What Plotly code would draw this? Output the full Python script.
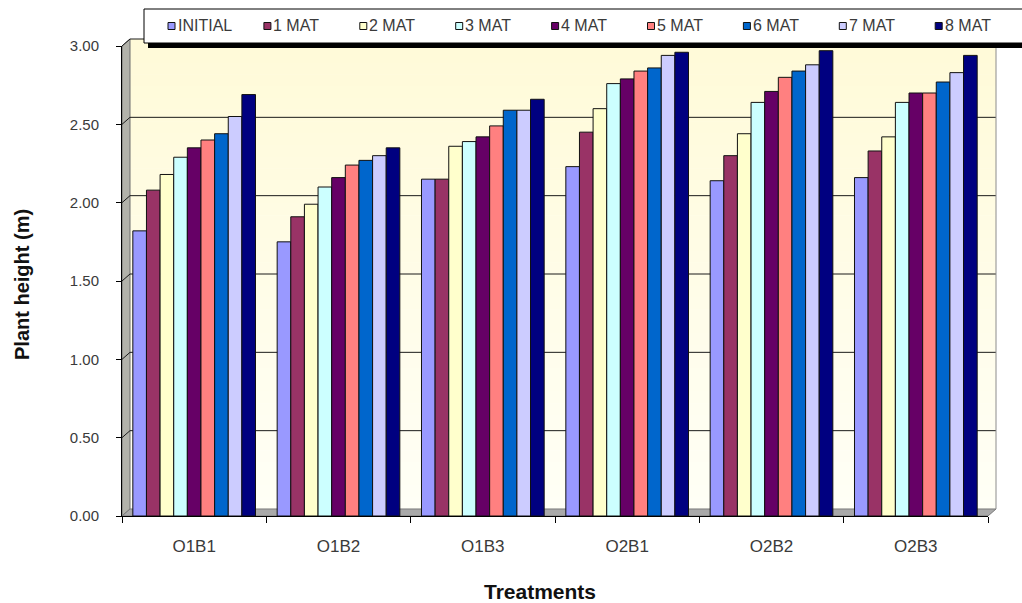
import plotly.graph_objects as go

# Treatments on the x axis and growth stages as grouped series
treatments = ["O1B1", "O1B2", "O1B3", "O2B1", "O2B2", "O2B3"]
stages = ["INITIAL", "1 MAT", "2 MAT", "3 MAT", "4 MAT", "5 MAT", "6 MAT", "7 MAT", "8 MAT"]

# Plant height (m) per stage, one value per treatment
initial = [1.82, 1.75, 2.15, 2.23, 2.14, 2.16]
mat1 = [2.08, 1.91, 2.15, 2.45, 2.30, 2.33]
mat2 = [2.18, 1.99, 2.36, 2.60, 2.44, 2.42]
mat3 = [2.29, 2.10, 2.39, 2.76, 2.64, 2.64]
mat4 = [2.35, 2.16, 2.42, 2.79, 2.71, 2.70]
mat5 = [2.40, 2.24, 2.49, 2.84, 2.80, 2.70]
mat6 = [2.44, 2.27, 2.59, 2.86, 2.84, 2.77]
mat7 = [2.55, 2.30, 2.59, 2.94, 2.88, 2.83]
mat8 = [2.69, 2.35, 2.66, 2.96, 2.97, 2.94]
series = [initial, mat1, mat2, mat3, mat4, mat5, mat6, mat7, mat8]

colors = ["#9999FF", "#993366", "#FFFFCC", "#CCFFFF", "#660066",
          "#FF8080", "#0066CC", "#CCCCFF", "#000080"]

y_ticks = [0.0, 0.5, 1.0, 1.5, 2.0, 2.5, 3.0]
y_max = 3.0

FONT = "Arial, Liberation Sans, sans-serif"
TEXT = "#3A3A3A"

# Figure / plot-area geometry in pixels
W, H = 1022, 603
L, R, T, B = 122, 988, 46, 516
DX, DY = 8, 7  # depth offset of the back wall


def px(x):
    return (x - L) / (R - L)


def py(y):
    return (B - y) / (B - T)


def vy(v):
    """pixel row of a value on the front axis"""
    return B - v / y_max * (B - T)


shapes = []

# Back wall with a soft cream-to-white vertical gradient
n_bands = 40
top_c = (255, 250, 216)
bot_c = (255, 255, 246)
wall_top, wall_bot = T - DY, B - DY
for i in range(n_bands):
    f = i / (n_bands - 1)
    c = tuple(round(top_c[k] + (bot_c[k] - top_c[k]) * f) for k in range(3))
    y0 = wall_top + (wall_bot - wall_top) * i / n_bands
    y1 = wall_top + (wall_bot - wall_top) * (i + 1) / n_bands + 0.5
    shapes.append(dict(type="rect", xref="paper", yref="paper", layer="below",
                       x0=px(L + DX), x1=px(R + DX), y0=py(y1), y1=py(y0),
                       fillcolor="rgb(%d,%d,%d)" % c, line=dict(width=0)))

# Side wall (left) and floor
shapes.append(dict(type="path", xref="paper", yref="paper", layer="below",
                   path="M %f,%f L %f,%f L %f,%f L %f,%f Z" % (
                       px(L), py(B), px(L), py(T), px(L + DX), py(T - DY), px(L + DX), py(B - DY)),
                   fillcolor="#B2B2AA", line=dict(color="#6E6E6E", width=1)))
shapes.append(dict(type="path", xref="paper", yref="paper", layer="below",
                   path="M %f,%f L %f,%f L %f,%f L %f,%f Z" % (
                       px(L), py(B), px(L + DX), py(B - DY), px(R + DX), py(B - DY), px(R), py(B)),
                   fillcolor="#A9A9A9", line=dict(color="#7A7A7A", width=1)))

# Gridlines on the back wall plus their slanted continuation on the side wall
for v in y_ticks[1:]:
    yy = vy(v)
    shapes.append(dict(type="line", xref="paper", yref="paper", layer="below",
                       x0=px(L + DX), x1=px(R + DX), y0=py(yy - DY), y1=py(yy - DY),
                       line=dict(color="#1A1A1A", width=1)))
    shapes.append(dict(type="line", xref="paper", yref="paper", layer="below",
                       x0=px(L), x1=px(L + DX), y0=py(yy), y1=py(yy - DY),
                       line=dict(color="#1A1A1A", width=1)))

# Right edge of the back wall
shapes.append(dict(type="line", xref="paper", yref="paper", layer="below",
                   x0=px(R + DX), x1=px(R + DX), y0=py(B - DY), y1=py(T - DY),
                   line=dict(color="#8C8C8C", width=1)))

fig = go.Figure()
for name, vals, col in zip(stages, series, colors):
    fig.add_trace(go.Bar(
        x=treatments, y=vals, name=name,
        marker=dict(color=col, line=dict(color="#111111", width=1)),
    ))

# Legend box with a drop shadow, drawn on top
LG_X0, LG_Y0, LG_X1, LG_Y1 = 144, 9, 1026, 43
shapes.append(dict(type="rect", xref="paper", yref="paper", layer="above",
                   x0=px(LG_X0 + 4), x1=px(LG_X1 + 4), y0=py(LG_Y1 + 5), y1=py(LG_Y0 + 4),
                   fillcolor="#000000", line=dict(width=0)))
shapes.append(dict(type="rect", xref="paper", yref="paper", layer="above",
                   x0=px(LG_X0), x1=px(LG_X1), y0=py(LG_Y1), y1=py(LG_Y0),
                   fillcolor="#FFFFFF", line=dict(color="#000000", width=1)))

annotations = []
LG_CY = 26
for i, (name, col) in enumerate(zip(stages, colors)):
    cx = 171.5 + 95.9 * i
    shapes.append(dict(type="rect", xref="paper", yref="paper", layer="above",
                       x0=px(cx - 3.5), x1=px(cx + 3.5), y0=py(LG_CY + 3.5), y1=py(LG_CY - 3.5),
                       fillcolor=col, line=dict(color="#111111", width=1)))
    annotations.append(dict(xref="paper", yref="paper", x=px(cx + 4), y=py(LG_CY),
                            xanchor="left", yanchor="middle", showarrow=False,
                            text=name, font=dict(family=FONT, size=16, color=TEXT)))

# Axis titles
annotations.append(dict(xref="paper", yref="paper", x=px(22), y=py(285),
                        xanchor="center", yanchor="middle", showarrow=False,
                        textangle=-90, text="<b>Plant height (m)</b>",
                        font=dict(family=FONT, size=20, color="#111111")))
annotations.append(dict(xref="paper", yref="paper", x=px(540), y=py(591),
                        xanchor="center", yanchor="middle", showarrow=False,
                        text="<b>Treatments</b>",
                        font=dict(family=FONT, size=21, color="#111111")))

fig.update_layout(
    width=W, height=H,
    margin=dict(l=L, r=W - R, t=T, b=H - B, pad=0),
    paper_bgcolor="#FFFFFF", plot_bgcolor="rgba(0,0,0,0)",
    barmode="group", bargap=0.15, bargroupgap=0.0,
    showlegend=False,
    shapes=shapes, annotations=annotations,
    font=dict(family=FONT, color=TEXT),
)
fig.update_xaxes(
    type="category", showgrid=False, zeroline=False,
    showline=True, linecolor="#000000", linewidth=1,
    ticks="outside", tickson="boundaries", ticklen=6, tickcolor="#000000",
    tickfont=dict(family=FONT, size=17, color=TEXT), ticklabelstandoff=15,
)
fig.update_yaxes(
    range=[0, y_max], tickvals=y_ticks, ticktext=["%.2f" % v for v in y_ticks],
    showgrid=False, zeroline=False,
    showline=True, linecolor="#000000", linewidth=1,
    ticks="outside", ticklen=5, tickcolor="#000000",
    tickfont=dict(family=FONT, size=15, color=TEXT), ticklabelstandoff=14,
)

fig.write_html("out.html")
